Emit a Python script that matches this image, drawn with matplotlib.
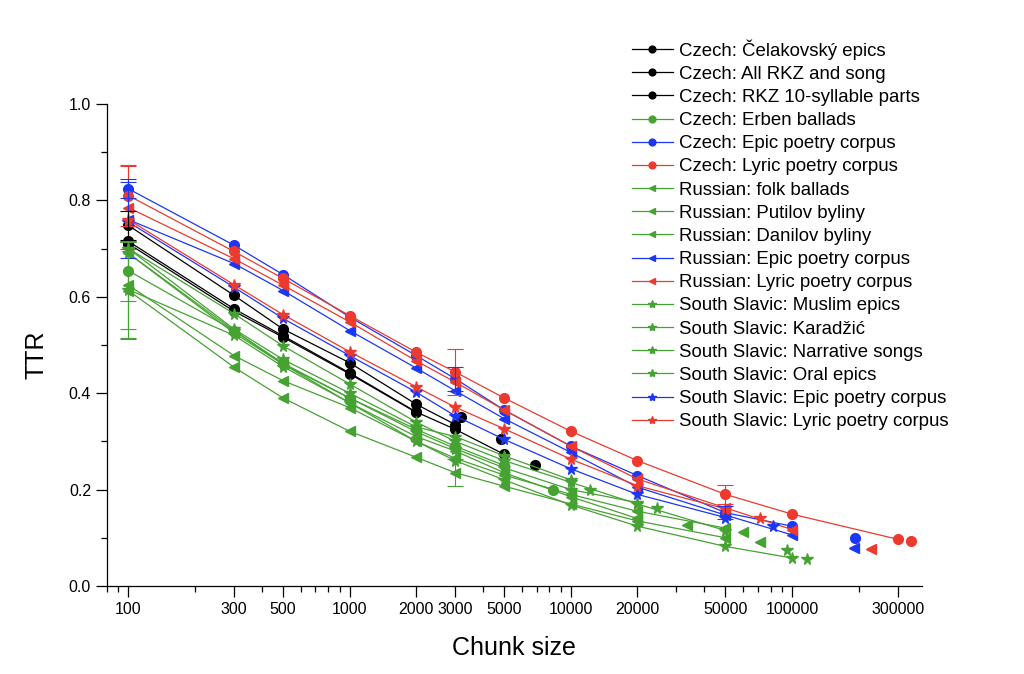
import matplotlib
matplotlib.use("Agg")
import matplotlib.pyplot as plt
from matplotlib.ticker import FixedLocator, LogLocator, NullFormatter

plt.rcParams['font.family'] = ['Liberation Sans', 'DejaVu Sans']

chunks = [100, 300, 500, 1000, 2000, 3000, 5000, 10000, 20000, 50000, 100000, 300000]

labels = [
    "Czech: Čelakovský epics",
    "Czech: All RKZ and song",
    "Czech: RKZ 10-syllable parts",
    "Czech: Erben ballads",
    "Czech: Epic poetry corpus",
    "Czech: Lyric poetry corpus",
    "Russian: folk ballads",
    "Russian: Putilov byliny",
    "Russian: Danilov byliny",
    "Russian: Epic poetry corpus",
    "Russian: Lyric poetry corpus",
    "South Slavic: Muslim epics",
    "South Slavic: Karadžić",
    "South Slavic: Narrative songs",
    "South Slavic: Oral epics",
    "South Slavic: Epic poetry corpus",
    "South Slavic: Lyric poetry corpus",
]

BLACK, GREEN, BLUE, RED = "#000000", "#46a233", "#1c36f5", "#ec3a2e"
colors = [BLACK, BLACK, BLACK, GREEN, BLUE, RED,
          GREEN, GREEN, GREEN, BLUE, RED,
          GREEN, GREEN, GREEN, GREEN, BLUE, RED]
markers = ["o"] * 6 + ["<"] * 5 + ["*"] * 6

# TTR at each chunk size (list is cut where the corpus runs out)
ttr = [
    [0.748, 0.603, 0.533, 0.463, 0.377, 0.335],
    [0.715, 0.575, 0.519, 0.442, 0.361, 0.325, 0.273],
    [0.710, 0.570, 0.516, 0.440, 0.360],
    [0.654, 0.530, 0.462, 0.390, 0.325, 0.290, 0.250],
    [0.824, 0.707, 0.646, 0.558, 0.478, 0.430, 0.365, 0.290, 0.229, 0.152, 0.124],
    [0.810, 0.694, 0.638, 0.561, 0.485, 0.444, 0.390, 0.321, 0.260, 0.190, 0.149, 0.097],
    [0.690, 0.525, 0.460, 0.380, 0.310, 0.280, 0.235, 0.185, 0.140],
    [0.624, 0.478, 0.426, 0.370, 0.300, 0.265, 0.230, 0.190, 0.155, 0.120],
    [0.613, 0.454, 0.390, 0.321, 0.267, 0.235, 0.207, 0.170, 0.135, 0.100],
    [0.760, 0.669, 0.613, 0.530, 0.452, 0.405, 0.347, 0.277, 0.205, 0.147, 0.106],
    [0.785, 0.679, 0.624, 0.548, 0.467, 0.423, 0.365, 0.290, 0.222, 0.162, 0.117],
    [0.615, 0.520, 0.455, 0.380, 0.300, 0.260, 0.220, 0.168, 0.124, 0.082, 0.058],
    [0.700, 0.565, 0.498, 0.419, 0.340, 0.300, 0.260, 0.215, 0.170, 0.115],
    [0.700, 0.533, 0.470, 0.400, 0.330, 0.310, 0.270, 0.220],
    [0.690, 0.530, 0.460, 0.390, 0.320, 0.285, 0.245, 0.200, 0.173],
    [0.755, 0.620, 0.555, 0.478, 0.402, 0.353, 0.304, 0.243, 0.190, 0.142],
    [0.760, 0.625, 0.563, 0.486, 0.413, 0.371, 0.326, 0.263, 0.208, 0.160],
]

# whole-corpus point (size, TTR)
full_size = [4850, 6870, 3200, 8300, 193000, 344000, 33400, 60000, 71600,
             190000, 227000, 117000, 95000, 12200, 24400, 81600, 71600]
full_ttr = [0.304, 0.252, 0.350, 0.199, 0.099, 0.094, 0.127, 0.113, 0.092,
            0.079, 0.076, 0.056, 0.075, 0.199, 0.162, 0.124, 0.142]

# error bars (chunk size, series index, half-width)
err_x = [100, 100, 100, 100, 100, 100, 100, 100, 100, 3000, 3000, 3000, 50000, 50000]
err_s = [5, 10, 4, 9, 11, 8, 7, 3, 0, 5, 4, 8, 5, 4]
err_v = [0.063, 0.086, 0.020, 0.079, 0.100, 0.100, 0.090, 0.062, 0.030,
         0.047, 0.025, 0.028, 0.020, 0.013]

fig = plt.figure(figsize=(10.24, 6.74), dpi=100)
ax = fig.add_axes([0.1045, 0.1306, 0.7955, 0.7151])

for i, lab in enumerate(labels):
    n = len(ttr[i])
    ms = 8.5 if markers[i] == "*" else 7
    ax.plot(chunks[:n], ttr[i], color=colors[i], marker=markers[i], lw=0.9,
            markersize=ms, label=lab)
    ax.plot(full_size[i], full_ttr[i], ls="none", color=colors[i], marker=markers[i],
            markersize=ms)

for x, s, e in zip(err_x, err_s, err_v):
    y = ttr[s][chunks.index(x)]
    ax.errorbar([x], [y], yerr=[e], fmt="none", ecolor=colors[s], elinewidth=0.8,
                capsize=6, capthick=0.8)

ax.set_xscale("log")
ax.set_xlim(80, 385000)
ax.set_ylim(0, 1.0)
major = [100, 300, 500, 1000, 2000, 3000, 5000, 10000, 20000, 50000, 100000, 300000]
ax.xaxis.set_major_locator(FixedLocator(major))
ax.set_xticklabels([str(m) for m in major])
ax.xaxis.set_minor_locator(LogLocator(base=10, subs=range(1, 10), numticks=20))
ax.xaxis.set_minor_formatter(NullFormatter())
ax.set_yticks([0.0, 0.2, 0.4, 0.6, 0.8, 1.0])
ax.set_yticklabels(["0.0", "0.2", "0.4", "0.6", "0.8", "1.0"])
ax.set_yticks([0.1, 0.3, 0.5, 0.7, 0.9], minor=True)
ax.tick_params(which="major", length=8, width=0.9, labelsize=11.5, direction="out")
ax.tick_params(which="minor", length=4.5, width=0.9, direction="out")

for side in ["top", "right"]:
    ax.spines[side].set_visible(False)
for side in ["left", "bottom"]:
    ax.spines[side].set_linewidth(0.9)

ax.set_xlabel("Chunk size", fontsize=18, labelpad=14)
ax.set_ylabel("TTR", fontsize=18, labelpad=8)
ax.yaxis.set_label_coords(-0.072, 0.48)

ax.legend(loc="upper left", bbox_to_anchor=(0.617, 0.942), bbox_transform=fig.transFigure,
          frameon=False, fontsize=13.4, borderpad=0, borderaxespad=0,
          labelspacing=0.33, handlelength=2.2, handletextpad=0.32, markerscale=0.7)

fig.savefig("out.png", dpi=100)
